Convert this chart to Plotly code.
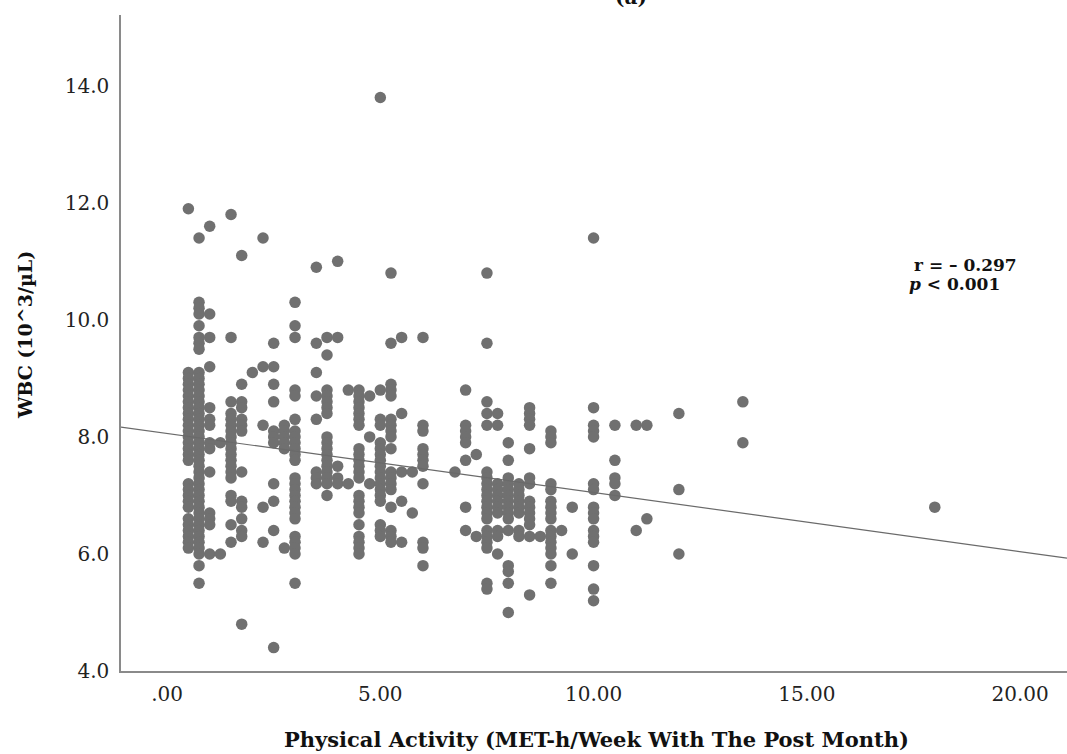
import plotly.graph_objects as go

# ---- data ----
met_levels = [0.5, 0.75, 1.0, 1.25, 1.5, 1.75, 2.0, 2.25, 2.5, 2.75,
              3.0, 3.5, 3.75, 4.0, 4.25, 4.5, 4.75, 5.0, 5.25, 5.5,
              5.75, 6.0, 6.75, 7.0, 7.25, 7.5, 7.75, 8.0, 8.25, 8.5,
              8.75, 9.0, 9.25, 9.5, 10.0, 10.5, 11.0, 11.25, 12.0, 13.5, 18.0]

wbc_groups = [
    [11.9, 9.1, 9.0, 8.9, 8.8, 8.7, 8.6, 8.5, 8.4, 8.3, 8.2, 8.1, 8.0, 7.9, 7.8, 7.7, 7.6,
     7.2, 7.1, 7.0, 6.9, 6.8, 6.6, 6.5, 6.4, 6.3, 6.2, 6.1],
    [11.4, 10.3, 10.2, 10.1, 9.9, 9.7, 9.6, 9.5, 9.1, 9.0, 8.9, 8.8, 8.7, 8.6, 8.5, 8.4, 8.3,
     8.2, 8.1, 8.0, 7.9, 7.8, 7.7, 7.6, 7.5, 7.4, 7.3, 7.2, 7.1, 7.0, 6.9, 6.8, 6.7, 6.6,
     6.5, 6.4, 6.3, 6.2, 6.1, 6.0, 5.8, 5.5],
    [11.6, 10.1, 9.7, 9.2, 8.5, 8.3, 8.2, 7.9, 7.8, 7.4, 6.7, 6.6, 6.5, 6.0],
    [7.9, 6.0],
    [11.8, 9.7, 8.6, 8.4, 8.3, 8.2, 8.1, 8.0, 7.9, 7.8, 7.7, 7.6, 7.5, 7.4, 7.3, 7.0, 6.9,
     6.5, 6.2],
    [11.1, 8.9, 8.6, 8.5, 8.3, 8.2, 8.1, 7.4, 6.9, 6.8, 6.6, 6.4, 6.3, 4.8],
    [9.1],
    [11.4, 9.2, 8.2, 6.8, 6.2],
    [9.6, 9.2, 8.9, 8.6, 8.1, 8.0, 7.9, 7.2, 6.9, 6.4, 4.4],
    [8.2, 8.1, 8.0, 7.9, 7.8, 6.1],
    [10.3, 9.9, 9.7, 8.8, 8.7, 8.3, 8.1, 8.0, 7.9, 7.8, 7.7, 7.6, 7.3, 7.2, 7.1, 7.0, 6.9,
     6.8, 6.7, 6.6, 6.3, 6.2, 6.1, 6.0, 5.5],
    [10.9, 9.6, 9.1, 8.7, 8.3, 7.4, 7.3, 7.2],
    [9.7, 9.4, 8.8, 8.7, 8.6, 8.5, 8.4, 8.0, 7.9, 7.8, 7.7, 7.6, 7.5, 7.4, 7.3, 7.2, 7.0],
    [11.0, 9.7, 7.5, 7.3, 7.2],
    [8.8, 7.2],
    [8.8, 8.7, 8.6, 8.5, 8.4, 8.3, 8.2, 7.8, 7.7, 7.6, 7.5, 7.4, 7.3, 7.0, 6.9, 6.8, 6.7,
     6.5, 6.3, 6.2, 6.1, 6.0],
    [8.7, 8.0, 7.2],
    [13.8, 8.8, 8.3, 8.2, 7.9, 7.8, 7.7, 7.6, 7.5, 7.4, 7.3, 7.2, 7.1, 7.0, 6.9, 6.5, 6.4, 6.3],
    [10.8, 9.6, 8.9, 8.8, 8.7, 8.3, 8.2, 8.1, 8.0, 7.8, 7.4, 7.3, 7.2, 7.1, 6.8, 6.4, 6.3, 6.2],
    [9.7, 8.4, 7.4, 6.9, 6.2],
    [7.4, 6.7],
    [9.7, 8.2, 8.1, 7.8, 7.7, 7.6, 7.5, 7.2, 6.2, 6.1, 5.8],
    [7.4],
    [8.8, 8.2, 8.1, 8.0, 7.9, 7.6, 6.8, 6.4],
    [7.7, 6.3],
    [10.8, 9.6, 8.6, 8.4, 8.2, 7.4, 7.3, 7.2, 7.1, 7.0, 6.9, 6.8, 6.7, 6.6, 6.4, 6.3, 6.2,
     6.1, 5.5, 5.4],
    [8.4, 8.2, 7.2, 7.1, 7.0, 6.9, 6.8, 6.7, 6.4, 6.3, 6.0],
    [7.9, 7.6, 7.3, 7.2, 7.1, 7.0, 6.9, 6.8, 6.7, 6.6, 6.4, 5.8, 5.7, 5.5, 5.0],
    [7.2, 7.1, 7.0, 6.9, 6.8, 6.7, 6.4, 6.3],
    [8.5, 8.4, 8.3, 8.2, 7.8, 7.3, 7.2, 6.9, 6.8, 6.7, 6.6, 6.5, 6.3, 5.3],
    [6.3],
    [8.1, 8.0, 7.9, 7.2, 7.1, 6.9, 6.8, 6.7, 6.6, 6.4, 6.3, 6.2, 6.1, 6.0, 5.8, 5.5],
    [6.4],
    [6.8, 6.0],
    [11.4, 8.5, 8.2, 8.1, 8.0, 7.2, 7.1, 6.8, 6.7, 6.6, 6.4, 6.3, 6.2, 5.8, 5.4, 5.2],
    [8.2, 7.6, 7.3, 7.2, 7.0],
    [8.2, 6.4],
    [8.2, 6.6],
    [8.4, 7.1, 6.0],
    [8.6, 7.9],
    [6.8],
]

fit_intercept = 8.06
fit_slope = -0.101

x_ticks = [0, 5, 10, 15, 20]
x_tick_text = [".00", "5.00", "10.00", "15.00", "20.00"]
y_ticks = [4, 6, 8, 10, 12, 14]
y_tick_text = ["4.0", "6.0", "8.0", "10.0", "12.0", "14.0"]

x_range = [-1.08, 21.1]
y_range = [4.0, 15.21]

# ---- build traces ----
xs, ys = [], []
for lvl, grp in zip(met_levels, wbc_groups):
    for v in grp:
        xs.append(lvl)
        ys.append(v)

fig = go.Figure()
fig.add_trace(go.Scatter(
    x=xs, y=ys, mode="markers",
    marker=dict(size=11.5, color="#707070", line=dict(width=0)),
    showlegend=False, hoverinfo="skip"))

line_x = [x_range[0], x_range[1]]
line_y = [fit_intercept + fit_slope * v for v in line_x]
fig.add_trace(go.Scatter(
    x=line_x, y=line_y, mode="lines",
    line=dict(color="#6a6a6a", width=1.2),
    showlegend=False, hoverinfo="skip"))

tick_font = dict(family="DejaVu Serif", size=20, color="#222222")
axis_col = "#8a8a8a"

fig.update_xaxes(range=x_range, tickvals=x_ticks, ticktext=x_tick_text,
                 showgrid=False, zeroline=False, showline=True,
                 linecolor=axis_col, linewidth=1.5, ticks="",
                 ticklabelstandoff=4, tickfont=tick_font)
fig.update_yaxes(range=y_range, tickvals=y_ticks, ticktext=y_tick_text,
                 showgrid=False, zeroline=False, showline=True,
                 linecolor=axis_col, linewidth=1.5, ticks="",
                 ticklabelstandoff=6, tickfont=tick_font)

bold = dict(family="DejaVu Serif", size=21, color="#111111")
fig.update_layout(
    width=1067, height=754,
    margin=dict(l=121, r=0, t=15, b=83),
    paper_bgcolor="white", plot_bgcolor="white",
    annotations=[
        dict(text="<b>(a)</b>", xref="paper", yref="paper", x=0.539, y=1.027,
             xanchor="center", yanchor="middle", showarrow=False,
             font=dict(family="DejaVu Serif", size=20, color="#111111")),
        dict(text="<b>Physical Activity (MET-h/Week With The Post Month)</b>",
             xref="paper", yref="paper", x=0.503, y=-0.105,
             xanchor="center", yanchor="middle", showarrow=False, font=bold),
        dict(text="<b>WBC (10^3/µL)</b>", xref="paper", yref="paper",
             x=-0.1015, y=0.512, textangle=-90,
             xanchor="center", yanchor="middle", showarrow=False,
             font=dict(family="DejaVu Serif", size=19, color="#111111")),
        dict(text="<b>r = – 0.297</b>", xref="paper", yref="paper",
             x=0.836, y=0.619, xanchor="left", yanchor="middle", showarrow=False,
             font=dict(family="DejaVu Serif", size=17, color="#111111")),
        dict(text="<b><i>p</i> &lt; 0.001</b>", xref="paper", yref="paper",
             x=0.831, y=0.590, xanchor="left", yanchor="middle", showarrow=False,
             font=dict(family="DejaVu Serif", size=17, color="#111111")),
    ],
)

fig.write_html("out.html", config={"displayModeBar": False},
               post_script="document.body.style.margin='0';document.body.style.overflow='hidden';")
